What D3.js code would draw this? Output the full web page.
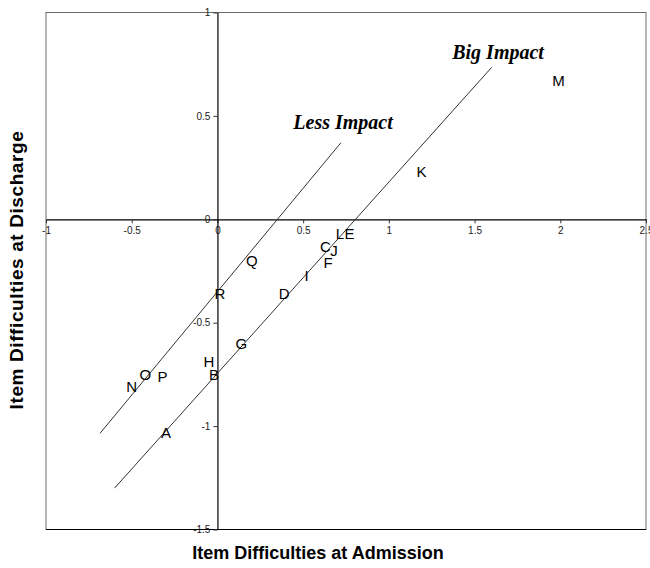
<!DOCTYPE html>
<html>
<head>
<meta charset="utf-8">
<script src="https://cdn.jsdelivr.net/npm/d3@7"></script>
<style>
  body { margin: 0; background: #fff; }
  svg { display: block; }
</style>
</head>
<body>
<div id="chart"></div>
<script>
// item letters with admission (x) / discharge (y) difficulties
var items = ["A", "B", "C", "D", "E", "F", "G", "H", "I", "J", "K", "L", "M", "N", "O", "P", "Q", "R"];
var admission = [-0.30, -0.02, 0.63, 0.39, 0.77, 0.645, 0.14, -0.05, 0.52, 0.68, 1.19, 0.715, 1.99, -0.50, -0.42, -0.32, 0.20, 0.015];
var discharge = [-1.03, -0.75, -0.13, -0.36, -0.07, -0.21, -0.60, -0.69, -0.27, -0.15, 0.23, -0.07, 0.67, -0.81, -0.75, -0.76, -0.20, -0.36];

// the two reference lines
var lessLineX = [-0.685, 0.72];
var lessLineY = [-1.035, 0.37];
var bigLineX = [-0.60, 1.60];
var bigLineY = [-1.30, 0.735];

var xTicks = [-1, -0.5, 0, 0.5, 1, 1.5, 2, 2.5];
var yTicks = [-1.5, -1, -0.5, 0, 0.5, 1];

var width = 650, height = 568;

var svg = d3.select("#chart").append("svg")
    .attr("width", width)
    .attr("height", height);

var x = d3.scaleLinear().domain([-1, 2.5]).range([46, 646]);
var y = d3.scaleLinear().domain([-1.5, 1]).range([529.5, 12.5]);

// plot box
svg.append("rect")
    .attr("x", x(-1))
    .attr("y", y(1))
    .attr("width", x(2.5) - x(-1))
    .attr("height", y(-1.5) - y(1))
    .attr("fill", "none")
    .attr("stroke", "#6b6b6b")
    .attr("stroke-width", 1);
svg.append("line")
    .attr("x1", x(-1)).attr("x2", x(2.5))
    .attr("y1", y(-1.5)).attr("y2", y(-1.5))
    .attr("stroke", "#000");

// axes through the origin
var xAxis = d3.axisBottom(x)
    .tickValues(xTicks)
    .tickSize(4)
    .tickSizeOuter(0)
    .tickPadding(4)
    .tickFormat(function(d) { return String(d); });
var yAxis = d3.axisLeft(y)
    .tickValues(yTicks)
    .tickSize(4)
    .tickSizeOuter(0)
    .tickPadding(3)
    .tickFormat(function(d) { return String(d); });

var gx = svg.append("g")
    .attr("transform", "translate(0," + y(0) + ")")
    .call(xAxis);
var gy = svg.append("g")
    .attr("transform", "translate(" + x(0) + ",0)")
    .call(yAxis);

[gx, gy].forEach(function(g) {
    g.select(".domain").attr("stroke", "#000").attr("stroke-width", 1.2);
    g.selectAll(".tick line").attr("stroke", "#333");
    g.selectAll(".tick text")
        .attr("fill", "#222")
        .style("font-family", "'Liberation Sans', Arial, sans-serif")
        .style("font-size", "10px");
});

// reference lines
var line = d3.line()
    .x(function(d) { return x(d[0]); })
    .y(function(d) { return y(d[1]); });

svg.append("path")
    .attr("d", line(d3.zip(lessLineX, lessLineY)))
    .attr("fill", "none")
    .attr("stroke", "#333")
    .attr("stroke-width", 1);
svg.append("path")
    .attr("d", line(d3.zip(bigLineX, bigLineY)))
    .attr("fill", "none")
    .attr("stroke", "#333")
    .attr("stroke-width", 1);

// letter markers
svg.selectAll("text.item")
    .data(items)
    .enter()
    .append("text")
    .attr("class", "item")
    .attr("x", function(d, i) { return x(admission[i]); })
    .attr("y", function(d, i) { return y(discharge[i]); })
    .attr("text-anchor", "middle")
    .attr("dominant-baseline", "central")
    .style("font-family", "'Liberation Sans', Arial, sans-serif")
    .style("font-size", "15px")
    .attr("fill", "#000")
    .text(function(d) { return d; });

// line annotations
var notes = [
    {t: "Less Impact", x: 0.733, y: 0.47},
    {t: "Big Impact", x: 1.637, y: 0.81}
];
svg.selectAll("text.note")
    .data(notes)
    .enter()
    .append("text")
    .attr("class", "note")
    .attr("x", function(d) { return x(d.x); })
    .attr("y", function(d) { return y(d.y); })
    .attr("text-anchor", "middle")
    .attr("dominant-baseline", "central")
    .style("font-family", "'Liberation Serif', 'Times New Roman', serif")
    .style("font-weight", "bold")
    .style("font-style", "italic")
    .style("font-size", "20px")
    .text(function(d) { return d.t; });

// axis titles
svg.append("text")
    .attr("x", 318)
    .attr("y", 559)
    .attr("text-anchor", "middle")
    .style("font-family", "'Liberation Sans', Arial, sans-serif")
    .style("font-weight", "bold")
    .style("font-size", "18px")
    .text("Item Difficulties at Admission");

svg.append("text")
    .attr("transform", "translate(23,270) rotate(-90)")
    .attr("text-anchor", "middle")
    .style("font-family", "'Liberation Sans', Arial, sans-serif")
    .style("font-weight", "bold")
    .style("font-size", "19px")
    .style("letter-spacing", "0.6px")
    .text("Item Difficulties at Discharge");
</script>
</body>
</html>
